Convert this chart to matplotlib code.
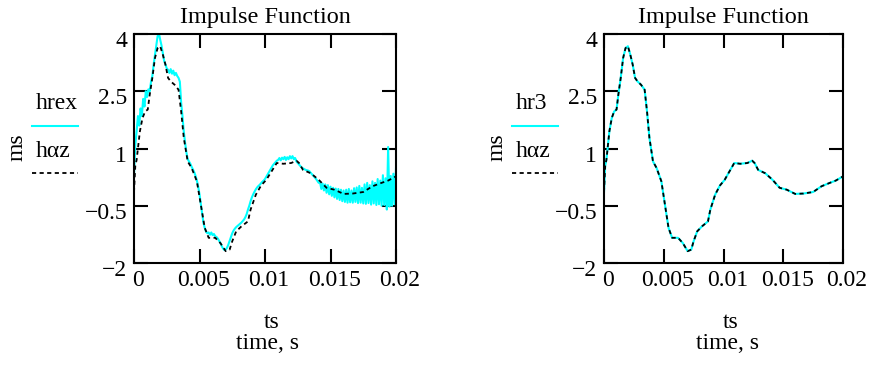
import numpy as np
import matplotlib
matplotlib.use('Agg')
import matplotlib.pyplot as plt
import matplotlib.transforms as mtransforms
from matplotlib.lines import Line2D

plt.rcParams['font.family'] = ['Liberation Serif', 'DejaVu Serif']
plt.rcParams['font.size'] = 17

# measured impulse response (hrex), 0.1 ms sampling
h_rex = [0.3, 1.1, 1.45, 1.85, 1.6, 2.05, 1.85, 2.3, 2.1, 2.5,
         2.35, 2.55, 2.5, 2.75, 2.9, 3.2, 3.45, 3.7, 3.94, 4.02,
         3.85, 3.7, 3.5, 3.3, 3.2, 3.1, 3.06, 2.98, 3.08, 2.96,
         3.04, 2.92, 2.98, 2.9, 2.85, 2.75, 2.2, 1.85, 1.45, 1.15,
         0.9, 0.72, 0.66, 0.6, 0.52, 0.45, 0.38, 0.28, 0.16, 0.0,
         -0.2, -0.45, -0.7, -0.95, -1.08, -1.18, -1.22, -1.2, -1.26, -1.2,
         -1.27, -1.24, -1.3, -1.32, -1.36, -1.42, -1.48, -1.56, -1.62, -1.66,
         -1.65, -1.6, -1.52, -1.42, -1.32, -1.22, -1.15, -1.1, -1.06, -1.03,
         -1.0, -0.97, -0.94, -0.9, -0.86, -0.8, -0.72, -0.6, -0.5, -0.38,
         -0.28, -0.2, -0.13, -0.07, -0.02, 0.02, 0.05, 0.09, 0.13, 0.16,
         0.2, 0.26, 0.32, 0.38, 0.44, 0.5, 0.56, 0.6, 0.64, 0.68,
         0.7, 0.75, 0.69, 0.76, 0.72, 0.78, 0.7, 0.77, 0.72, 0.8,
         0.74, 0.8, 0.72, 0.75, 0.66, 0.62, 0.58, 0.54, 0.5, 0.48,
         0.46, 0.44, 0.43, 0.42, 0.4, 0.36, 0.32, 0.28, 0.24, 0.2,
         0.15, 0.1, 0.12, -0.06, 0.08, -0.1, 0.06, -0.16, 0.04, -0.2,
         0.0, -0.24, -0.03, -0.28, -0.05, -0.32, -0.06, -0.35, -0.08, -0.38,
         -0.1, -0.4, -0.08, -0.42, -0.06, -0.41, -0.1, -0.42, -0.04, -0.4,
         -0.02, -0.43, 0.02, -0.42, -0.03, -0.44, 0.06, -0.45, 0.1, -0.43,
         0.04, -0.47, 0.14, -0.44, 0.1, -0.48, 0.2, -0.46, 0.16, -0.5,
         0.3, -0.48, 0.22, -0.6, 1.04, -0.52, 0.28, -0.5, 0.34, -0.46,
         0.5]
t_rex = np.linspace(0, 0.02, len(h_rex))

# model response (h alpha z)
t_az = [0, 0.0001, 0.0002, 0.00045, 0.00065, 0.00085, 0.00105, 0.0012, 0.0014, 0.0016,
        0.0018, 0.002, 0.0022, 0.0024, 0.0026, 0.0028, 0.0031, 0.0034, 0.0036, 0.0038,
        0.0041, 0.0044, 0.0048, 0.0051, 0.0054, 0.0057, 0.0062, 0.0066, 0.007, 0.0073,
        0.0075, 0.0078, 0.0082, 0.0087, 0.0089, 0.0093, 0.0097, 0.0101, 0.0105, 0.0109,
        0.0114, 0.012, 0.0124, 0.0126, 0.0129, 0.0135, 0.0141, 0.0147, 0.0153, 0.016,
        0.0167, 0.0175, 0.0182, 0.0189, 0.0194, 0.02]
h_az = [-0.15, 0.55, 0.7, 1.45, 1.8, 1.97, 2.02, 2.41, 2.85, 3.37,
        3.63, 3.68, 3.46, 3.2, 2.85, 2.76, 2.67, 2.54, 1.97, 1.28,
        0.66, 0.49, 0.14, -0.47, -1.08, -1.34, -1.34, -1.48, -1.69, -1.65,
        -1.43, -1.17, -1.04, -0.91, -0.6, -0.21, 0.03, 0.18, 0.4, 0.62,
        0.6, 0.62, 0.68, 0.62, 0.44, 0.35, 0.18, -0.03, -0.08, -0.19,
        -0.18, -0.14, 0.01, 0.1, 0.16, 0.27]

# reduced-order response (hr3) lies on top of h alpha z
t_r3 = t_az
h_r3 = h_az

x_ticks = [0, 0.005, 0.01, 0.015, 0.02]
x_tick_labels = ['0', '0.005', '0.01', '0.015', '0.02']
y_ticks = [-2, -0.5, 1, 2.5, 4]
y_tick_labels = ['\u22122', '\u22120.5', '1', '2.5', '4']

CYAN = '#00ffff'
DASH = (0, (2.3, 1.9))

W, H = 869, 365
fig = plt.figure(figsize=(W / 100, H / 100), dpi=100)


def px(x, y):
    """pixel position -> figure fraction"""
    return x / W, 1 - y / H


def make_panel(rect, t1, h1):
    ax = fig.add_axes(rect)
    ax.plot(t1, h1, color=CYAN, lw=1.5, zorder=2)
    ax.plot(t_az, h_az, color='black', lw=1.3, linestyle=DASH, zorder=3)
    ax.set_xlim(0, 0.02)
    ax.set_ylim(-2, 4)
    ax.set_xticks(x_ticks)
    ax.set_xticklabels(x_tick_labels)
    ax.set_yticks(y_ticks)
    ax.set_yticklabels(y_tick_labels)
    ax.tick_params(direction='in', length=10, width=1.5, top=True, right=True,
                   labelsize=17, colors='black')
    ax.tick_params(axis='x', pad=5)
    ax.tick_params(axis='y', pad=5)
    for s in ax.spines.values():
        s.set_linewidth(1.5)
    # small shifts of the tick labels, like the original
    for lab in ax.get_yticklabels():
        lab.set_transform(lab.get_transform() +
                          mtransforms.ScaledTranslation(0, -0.05, fig.dpi_scale_trans))
    for lab in ax.get_xticklabels():
        lab.set_transform(lab.get_transform() +
                          mtransforms.ScaledTranslation(0.04, 0, fig.dpi_scale_trans))
    ax.set_title('Impulse Function', fontsize=17.5, pad=8)
    return ax


ax1 = make_panel([134 / W, 102 / H, 262 / W, 229 / H], t_rex, h_rex)
ax2 = make_panel([604 / W, 102 / H, 239 / W, 229 / H], t_r3, h_r3)

# legend-like keys to the left of each plot (Mathcad style)
for x0, name in [(32, 'hrex'), (512, 'hr3')]:
    fig.text(*px(x0 + 4, 109), name, fontsize=17, ha='left', va='baseline')
    fig.add_artist(Line2D([x0 / W, (x0 + 46) / W], [1 - 126 / H, 1 - 126 / H],
                          color=CYAN, lw=1.5, transform=fig.transFigure))
    fig.text(*px(x0 + 4, 157), 'h\u03b1z', fontsize=17, ha='left', va='baseline')
    fig.add_artist(Line2D([x0 / W, (x0 + 46) / W], [1 - 173 / H, 1 - 173 / H],
                          color='black', lw=1.3, linestyle=DASH, transform=fig.transFigure))

for xc in [17, 497]:
    fig.text(*px(xc, 147), 'ms', fontsize=17, rotation=90, ha='center', va='center')

for xc in [272, 731]:
    fig.text(*px(xc, 328), 'ts', fontsize=17, ha='center', va='baseline')
    fig.text(*px(xc - 4, 349), 'time, s', fontsize=17, ha='center', va='baseline')

fig.savefig('out.png', dpi=100)
